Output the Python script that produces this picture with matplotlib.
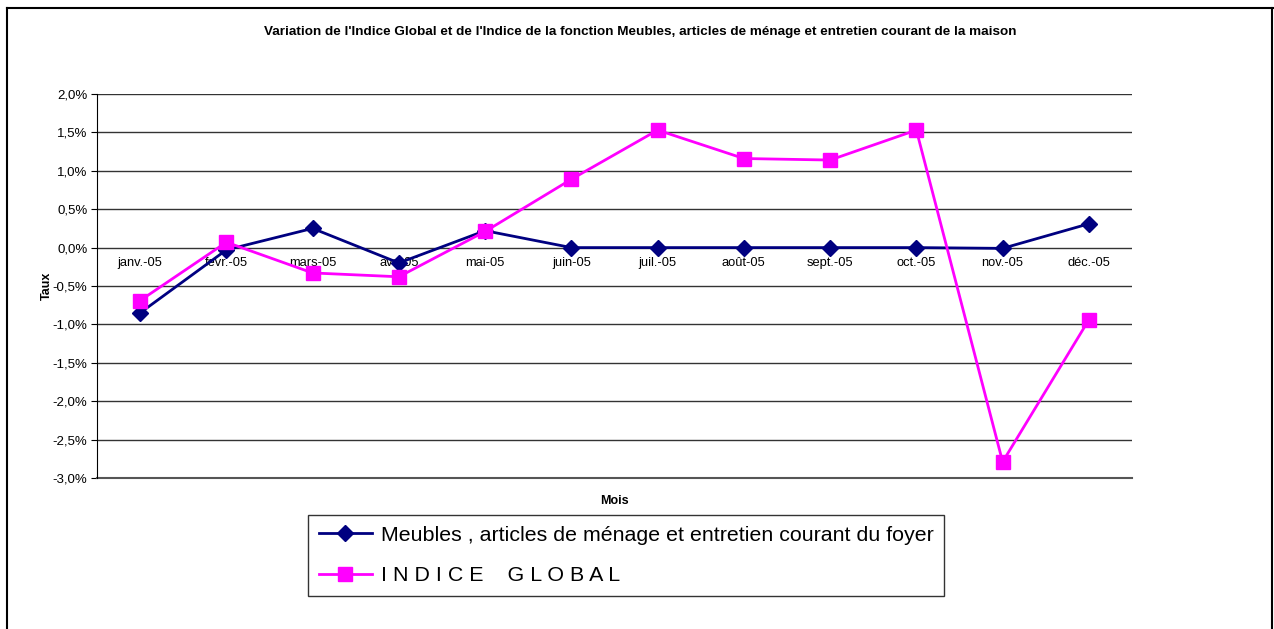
import numpy as np
import matplotlib.pyplot as plt
from matplotlib.lines import Line2D
from matplotlib.ticker import FuncFormatter

mois = ['janv.-05', 'fevr.-05', 'mars-05', 'avr.-05', 'mai-05', 'juin-05',
        'juil.-05', 'août-05', 'sept.-05', 'oct.-05', 'nov.-05', 'déc.-05']
meubles = [-0.85, -0.03, 0.25, -0.20, 0.22, 0.0, 0.0, 0.0, 0.0, 0.0, -0.01, 0.31]
indice_global = [-0.69, 0.07, -0.33, -0.38, 0.21, 0.89, 1.53, 1.16, 1.14, 1.53, -2.79, -0.94]

W, H = 1274, 629
fig = plt.figure(figsize=(W / 100, H / 100), dpi=100)
plt.rcParams['font.family'] = ['Liberation Sans', 'DejaVu Sans']

# outer frame (bottom edge runs off the picture)
fig.add_artist(Line2D([7 / W, 7 / W], [0, 1 - 8 / H], color='black', lw=1.5))
fig.add_artist(Line2D([7 / W, 1273 / W], [1 - 8 / H, 1 - 8 / H], color='black', lw=1.5))
fig.add_artist(Line2D([1272 / W, 1272 / W], [0, 1 - 8 / H], color='black', lw=1.5))

ax = fig.add_axes([97 / W, 1 - 478 / H, (1132 - 97) / W, (478 - 94) / H])
x = np.arange(len(mois))

ax.set_xlim(-0.5, len(mois) - 0.5)
ax.set_ylim(-3.0, 2.0)
ax.set_yticks(np.arange(-3.0, 2.01, 0.5))
ax.yaxis.set_major_formatter(FuncFormatter(lambda v, p: ('%.1f%%' % v).replace('.', ',')))
ax.grid(axis='y', color='#333333', lw=1)
ax.axhline(-3.0, color='#555555', lw=1.5, clip_on=False, zorder=1)
ax.set_axisbelow(True)
for s in ['top', 'right', 'bottom']:
    ax.spines[s].set_visible(False)
ax.spines['left'].set_color('black')
ax.tick_params(axis='y', labelsize=9.5, length=4, pad=3)
ax.set_xticks([])

for i, m in enumerate(mois):
    ax.text(i, -0.12, m, ha='center', va='top', fontsize=9.3)

ax.plot(x, meubles, color='#000080', lw=2, marker='D', ms=8,
        label='Meubles , articles de ménage et entretien courant du foyer', zorder=3)
ax.plot(x, indice_global, color='#FF00FF', lw=2, marker='s', ms=10,
        label='I N D I C E    G L O B A L', zorder=4)

ax.set_ylabel('Taux', fontsize=9, fontweight='bold', labelpad=0)
ax.set_xlabel('Mois', fontsize=9, fontweight='bold', labelpad=12)

fig.text(640 / W, 1 - 32 / H,
         "Variation de l'Indice Global et de l'Indice de la fonction Meubles, articles de ménage et entretien courant de la maison",
         ha='center', va='center', fontsize=9.7, fontweight='bold')

leg = fig.legend(loc='upper left', bbox_to_anchor=(308 / W, 1 - 515 / H), fontsize=15.4,
                 frameon=True, fancybox=False, edgecolor='black', handlelength=2.5,
                 handletextpad=0.4, labelspacing=1.0, borderpad=0.5, borderaxespad=0)
leg.get_frame().set_linewidth(1)

fig.savefig('out.png', dpi=100)
